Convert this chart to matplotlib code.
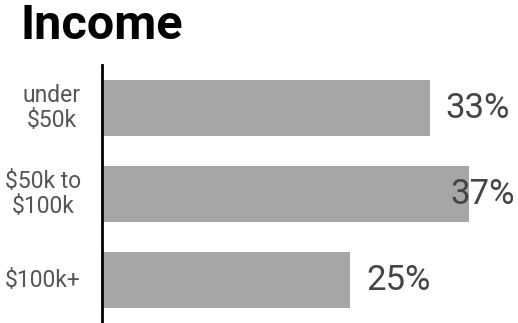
import matplotlib
matplotlib.use("Agg")
import matplotlib.pyplot as plt

categories = ["under\n$50k", "$50k to\n$100k", "$100k+"]
values = [33, 37, 25]
labels = ["33%", "37%", "25%"]

plt.rcParams['font.family'] = ['Roboto', 'DejaVu Sans']

W, H = 518, 323
fig = plt.figure(figsize=(W / 100, H / 100), dpi=100)
ax = fig.add_axes([102 / W, 0, 1 - 102 / W, 258 / H])

pos = list(range(len(values)))
ax.barh(pos, values, height=0.66, color="#a6a6a6", zorder=2)
ax.set_ylim(2.5, -0.5)
ax.set_xlim(0, 41.9)

for s in ["top", "right", "bottom"]:
    ax.spines[s].set_visible(False)
ax.spines["left"].set_linewidth(2)
ax.spines["left"].set_color("black")
ax.set_xticks([])
ax.set_yticks([])

# category labels in the left margin
for p, c in zip(pos, categories):
    ax.text(81 / W, ax.transData.transform((0, p))[1] / H, c,
            transform=fig.transFigure, ha="right", va="center",
            multialignment="center", fontsize=16.5, color="#555555",
            linespacing=1.1)

# value labels, pulled back inside the figure when they would overflow
fig.canvas.draw()
r = fig.canvas.get_renderer()
for p, v, lab in zip(pos, values, labels):
    t = ax.text(v + 1.6, p, lab, ha="left", va="center", fontsize=25,
                color="#444444", zorder=3)
    bb = t.get_window_extent(renderer=r)
    if bb.x1 > W - 3:
        t.set_position((ax.transData.inverted().transform((W - 3, 0))[0], p))
        t.set_ha("right")

fig.text(20 / W, 1 - 26 / H, "Income", fontsize=35, fontweight="bold",
         ha="left", va="center", color="black")

fig.savefig("out.png", dpi=100)
